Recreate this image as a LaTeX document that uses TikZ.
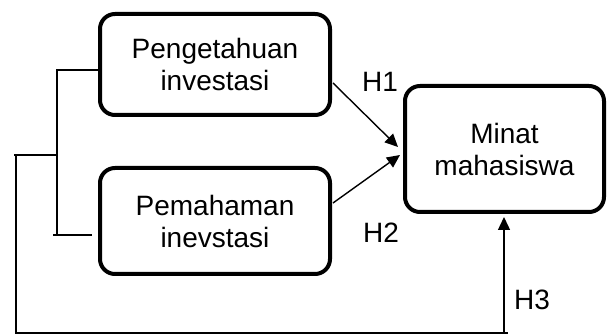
\documentclass[tikz,border=0pt]{standalone}
\usepackage{fontspec}
\setmainfont{Liberation Sans}
\usetikzlibrary{arrows.meta}
\begin{document}
\begin{tikzpicture}[x=1pt,y=-1pt,
  box/.style={draw,line width=4pt,rounded corners=15pt,align=center,inner sep=0pt,
    font=\fontsize{28}{32}\selectfont},
  conn/.style={line width=1.4pt},
  arr/.style={line width=1.4pt,-{Triangle[length=13pt,width=12pt]}},
  lab/.style={font=\fontsize{28}{32}\selectfont,inner sep=0pt}]
\useasboundingbox (0,0) rectangle (615,336);
\node[box,minimum width=230pt,minimum height=101pt] (box1) at (215,64.5) {Pengetahuan\\investasi};
\node[box,minimum width=230pt,minimum height=106pt] (box2) at (215,221) {Pemahaman\\inevstasi};
\node[box,minimum width=199pt,minimum height=126pt] (box3) at (504.5,149) {Minat\\mahasiswa};
\coordinate (ta) at (57,70);
\coordinate (tb) at (57,235);
\coordinate (tbl) at (53,235);
\coordinate (tbr) at (92,235);
\coordinate (mid) at (57,155);
\coordinate (ml) at (14,155);
\coordinate (mv) at (16,155);
\coordinate (bl) at (16,333);
\coordinate (br) at (504,333);
\coordinate (h3tip) at (504,217);
\coordinate (h1s) at (333,83);
\coordinate (h1e) at (398,147);
\coordinate (h2s) at (333,203);
\coordinate (h2e) at (400,155);
\draw[conn] (ta -| box1.west) -- (ta) -- (tb);
\draw[conn] (tbl) -- (tbr);
\draw[conn] (mid) -- (ml);
\draw[conn] (mv) -- (bl) -- ([xshift=4pt]br);
\draw[arr] (br) -- (h3tip);
\draw[arr] (h1s) -- (h1e);
\draw[arr] (h2s) -- (h2e);
\node[lab] (H1) at (380,82) {H1};
\node[lab] (H2) at (381,233) {H2};
\node[lab] (H3) at (532,300) {H3};
\end{tikzpicture}
\end{document}
